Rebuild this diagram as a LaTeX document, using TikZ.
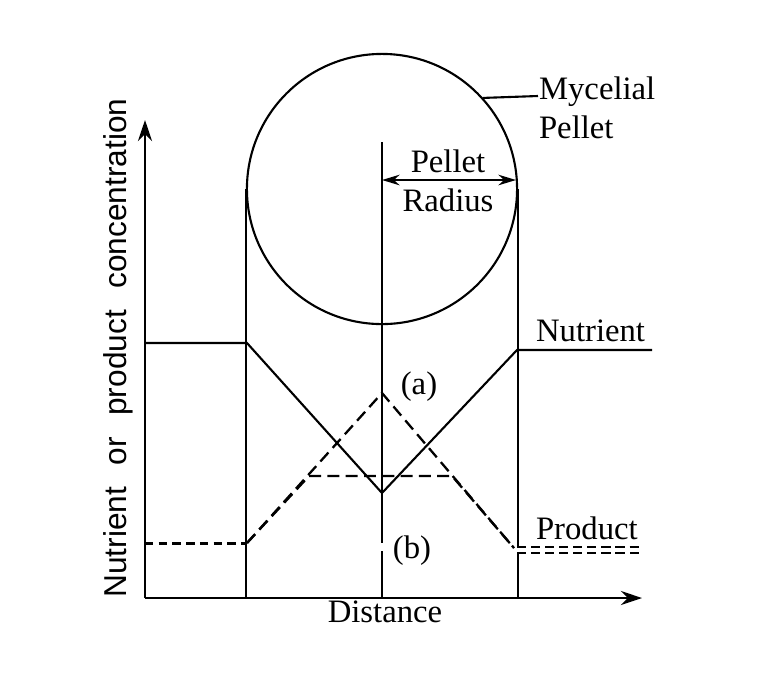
\documentclass[tikz,border=0pt]{standalone}
\usepackage{fontspec}
\setmainfont{Liberation Serif}
\setsansfont{Liberation Sans}
\usetikzlibrary{arrows.meta}
\begin{document}
\begin{tikzpicture}[x=0.01cm, y=-0.01cm, line width=0.6pt,
                    every node/.style={font=\fontsize{9.3}{11}\selectfont},
                    txt/.style={inner sep=0pt},
                    axis/.style={-{Stealth[length=6pt, width=4pt]}},
                    dim/.style={{Stealth[length=5pt, width=3pt]}-{Stealth[length=5pt, width=3pt]}},
                    conc/.style={line width=0.85pt, dash pattern=on 2.4pt off 1.5pt},
                    prod/.style={line width=0.65pt, dash pattern=on 3.4pt off 1.8pt},
                    twin/.style={double, double distance=1.1pt, line width=0.45pt, dash pattern=on 2.6pt off 1.4pt}]
  \useasboundingbox (0,0) rectangle (766,687);
  % axes
  \coordinate (o) at (145,598);
  \coordinate (ytip) at (145,120);
  \coordinate (xtip) at (642,598);
  \draw[axis] (o) -- (ytip);
  \draw[axis] (o) -- (xtip);
  \node[txt, rotate=90, font=\sffamily\fontsize{9}{11}\selectfont] (ylab) at (118,348)
    {Nutrient\hspace{0.4em} or\hspace{0.4em} product\hspace{0.4em} concentration};
  \node[txt] (xlab) at (385,612) {Distance};
  % pellet
  \node[draw, circle, minimum size=2.7cm, inner sep=0pt] (pellet) at (382,189) {};
  \coordinate (ctop) at (382,142);
  \coordinate (cgap) at (382,543);
  \coordinate (cfoot) at (382,551);
  \draw (pellet.west) -- (pellet.west |- o);
  \draw (pellet.east) -- (pellet.east |- o);
  \draw (ctop) -- (cgap);
  \draw (cfoot) -- (cfoot |- o);
  \coordinate (rl) at (382,180);
  \coordinate (rr) at (516,180);
  \draw[dim] (rl) -- (rr);
  \node[txt] (rtop) at (448,161) {Pellet};
  \node[txt] (rbot) at (448,200) {Radius};
  \node[txt, align=left, anchor=north west] (myc) at (538,76) {Mycelial\\Pellet};
  \draw (pellet.42) -- (myc.west |- 0,96);
  % nutrient profile
  \coordinate (n0) at (145,343);
  \coordinate (n1) at (247,343);
  \coordinate (n2) at (382,493);
  \coordinate (n3) at (517,350);
  \coordinate (n4) at (652,350);
  \draw (n0) -- (n1) -- (n2) -- (n3) -- (n4);
  \node[txt, anchor=west] (nut) at (535,331) {Nutrient};
  % product profiles
  \coordinate (p0) at (145,543);
  \coordinate (p1) at (247,543);
  \coordinate (pa) at (382,393);
  \coordinate (p2) at (514,548);
  \coordinate (p3) at (517,550);
  \coordinate (p4) at (643,550);
  \coordinate (b1) at (309,476);
  \coordinate (b2) at (452,476);
  \draw[conc] (p0) -- (p1);
  \draw[prod] (p1) -- (pa) -- (p2);
  \draw[prod] (p1) -- (b1) -- (b2) -- (p2);
  \draw[twin] (p3) -- (p4);
  \node[txt] (la) at (419,387) {(a)};
  \node[txt] (lb) at (412,551) {(b)};
  \node[txt, anchor=west] (prd) at (535,528) {Product};
\end{tikzpicture}
\end{document}
